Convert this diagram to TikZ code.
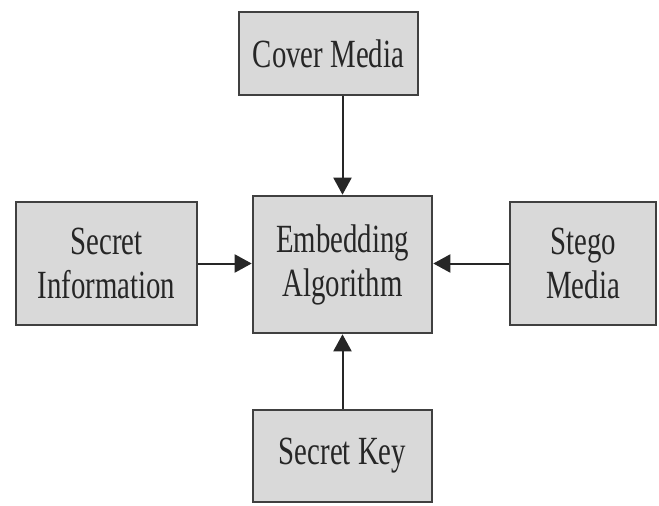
\documentclass[tikz,border=0pt]{standalone}
\usepackage{fontspec}
\newfontfamily\boxfont[FakeStretch=0.72]{Liberation Serif}
\usetikzlibrary{arrows.meta}
\definecolor{boxfill}{HTML}{D9D9D9}
\definecolor{boxline}{HTML}{404040}
\definecolor{inkcol}{HTML}{262626}
\tikzset{
  blockbox/.style={draw=boxline, fill=boxfill, line width=2.6pt, inner sep=0pt,
    align=center, text=inkcol, font=\boxfont\fontsize{40}{44}\selectfont},
  flow/.style={draw=inkcol, line width=2pt, -{Triangle[length=17pt,width=18pt]}}
}
\begin{document}
\begin{tikzpicture}[x=1pt,y=-1pt]
  \useasboundingbox (0,0) rectangle (659,506);
  % central processing block
  \node[blockbox, minimum width=179pt, minimum height=137pt] (emb) at (342.5,264.5) {Embedding\\Algorithm};
  % inputs around it
  \node[blockbox, minimum width=179pt, minimum height=83pt] (cover) at (328.5,53.5) {Cover Media};
  \node[blockbox, minimum width=181pt, minimum height=123pt] (info) at (106.5,263.5) {Secret\\Information};
  \node[blockbox, minimum width=146pt, minimum height=123pt] (stego) at (583,263.5) {Stego\\Media};
  \node[blockbox, minimum width=179pt, minimum height=92pt] (key) at (342.5,456) {Secret Key};
  % connectors into the central block
  \draw[flow] (cover.south -| emb.north) -- (emb.north);
  \draw[flow] (info.east) -- (info.east -| emb.west);
  \draw[flow] (stego.west) -- (stego.west -| emb.east);
  \draw[flow] (key.north) -- (emb.south);
\end{tikzpicture}
\end{document}
